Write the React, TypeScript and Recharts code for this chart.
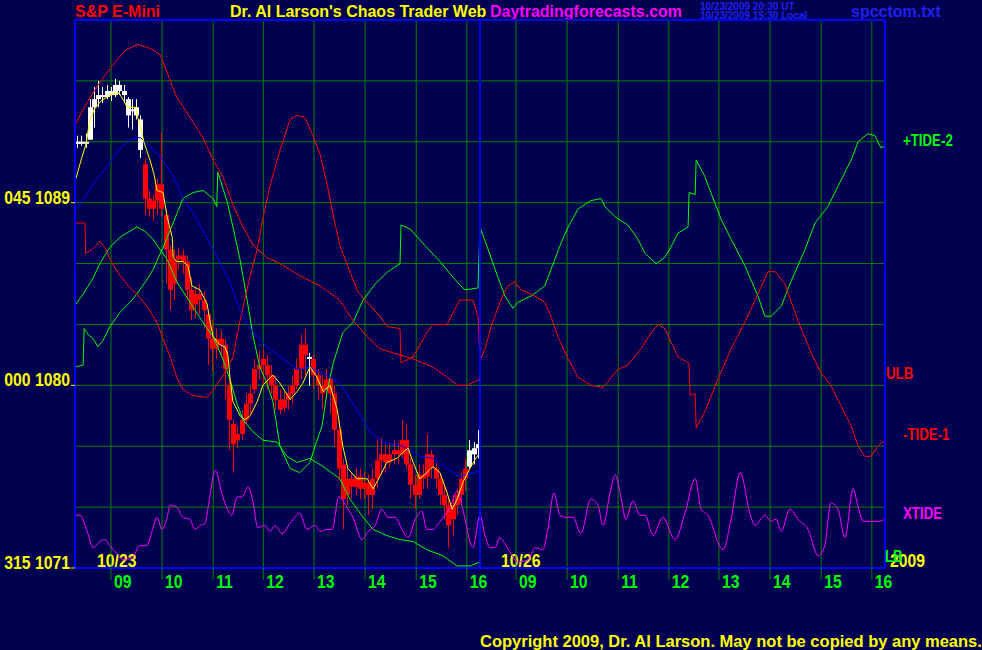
import React from "react";
import {
  ComposedChart,
  Line,
  Bar,
  XAxis,
  YAxis,
  CartesianGrid,
  ReferenceLine,
} from "recharts";

const BG = "#000050";
const GRID = "#008000";
const FRAME = "#0000ff";
const FONT = "'Liberation Sans', Arial, sans-serif";
const SQUEEZE = 0.83; // the chart's bitmap font is a narrow one

// 5-minute bars of 10/23: open, high, low, close, white(1) / red(0)
const BARS = [
  [1091.9, 1092.3, 1091.7, 1092.0, 1],
  [1092.0, 1092.3, 1091.8, 1091.9, 1],
  [1091.9, 1092.4, 1091.7, 1092.0, 1],
  [1092.1, 1094.1, 1092.1, 1093.7, 1],
  [1093.7, 1094.7, 1092.7, 1094.1, 1],
  [1094.1, 1095.0, 1093.7, 1094.3, 1],
  [1094.3, 1094.7, 1093.9, 1094.2, 1],
  [1094.2, 1094.8, 1094.1, 1094.5, 1],
  [1094.5, 1094.7, 1094.0, 1094.3, 1],
  [1094.3, 1095.1, 1094.2, 1094.8, 1],
  [1094.8, 1095.0, 1094.3, 1094.5, 1],
  [1094.5, 1094.8, 1093.9, 1094.3, 1],
  [1094.1, 1094.2, 1092.7, 1093.3, 1],
  [1093.5, 1094.1, 1092.6, 1093.6, 1],
  [1093.7, 1094.1, 1093.1, 1093.3, 1],
  [1093.1, 1093.3, 1091.2, 1091.6, 1],
  [1090.9, 1091.2, 1088.4, 1089.2, 0],
  [1089.2, 1089.6, 1088.3, 1088.7, 0],
  [1088.7, 1089.4, 1088.1, 1089.1, 0],
  [1089.1, 1090.2, 1088.4, 1089.9, 0],
  [1089.9, 1092.5, 1088.3, 1088.7, 0],
  [1088.4, 1088.7, 1085.0, 1086.7, 0],
  [1086.7, 1086.9, 1083.7, 1084.7, 0],
  [1085.0, 1086.7, 1084.2, 1086.2, 0],
  [1086.2, 1086.8, 1085.7, 1086.4, 0],
  [1086.4, 1086.7, 1085.5, 1086.1, 0],
  [1086.1, 1086.4, 1084.2, 1084.7, 0],
  [1084.7, 1085.3, 1083.2, 1083.7, 0],
  [1084.0, 1084.8, 1083.3, 1084.5, 0],
  [1084.5, 1085.0, 1083.5, 1084.2, 0],
  [1084.2, 1084.6, 1082.8, 1083.7, 0],
  [1083.5, 1083.7, 1081.0, 1082.3, 0],
  [1082.3, 1083.2, 1080.7, 1081.8, 0],
  [1081.8, 1082.8, 1081.3, 1082.3, 0],
  [1082.3, 1082.7, 1081.5, 1082.0, 0],
  [1082.0, 1082.3, 1079.3, 1080.8, 0],
  [1080.0, 1080.5, 1076.8, 1078.3, 0],
  [1078.1, 1078.3, 1075.7, 1077.1, 0],
  [1077.3, 1078.0, 1076.9, 1077.6, 0],
  [1077.6, 1078.8, 1077.3, 1078.3, 0],
  [1078.3, 1079.6, 1078.1, 1079.1, 0],
  [1079.1, 1080.0, 1078.6, 1079.6, 0],
  [1079.8, 1081.3, 1079.6, 1080.8, 0],
  [1080.8, 1081.7, 1080.3, 1081.0, 0],
  [1081.0, 1081.8, 1080.0, 1081.3, 0],
  [1081.0, 1081.5, 1079.8, 1080.5, 0],
  [1080.5, 1081.0, 1079.6, 1080.0, 0],
  [1080.0, 1080.5, 1078.8, 1079.3, 0],
  [1079.3, 1079.8, 1078.6, 1078.8, 0],
  [1078.9, 1079.7, 1078.7, 1079.3, 0],
  [1079.3, 1080.0, 1078.8, 1079.6, 0],
  [1079.6, 1080.5, 1079.1, 1080.0, 0],
  [1080.0, 1081.3, 1079.8, 1080.8, 0],
  [1080.8, 1082.5, 1080.3, 1082.0, 0],
  [1082.0, 1082.8, 1080.5, 1081.5, 0],
  [1081.3, 1081.6, 1080.0, 1081.4, 1],
  [1081.3, 1081.5, 1079.8, 1080.5, 0],
  [1080.5, 1080.8, 1079.3, 1080.0, 0],
  [1080.0, 1080.5, 1078.8, 1079.6, 0],
  [1079.8, 1080.8, 1079.3, 1080.3, 0],
  [1080.3, 1080.5, 1078.6, 1079.6, 0],
  [1079.6, 1080.0, 1077.0, 1077.8, 0],
  [1077.8, 1078.3, 1075.4, 1075.9, 0],
  [1076.1, 1076.4, 1072.9, 1074.4, 0],
  [1074.6, 1075.9, 1074.1, 1075.4, 0],
  [1075.4, 1075.7, 1074.4, 1075.0, 0],
  [1075.0, 1075.9, 1074.6, 1075.5, 0],
  [1075.5, 1075.9, 1074.4, 1074.9, 0],
  [1074.9, 1075.7, 1074.4, 1075.2, 0],
  [1075.2, 1075.6, 1073.6, 1074.6, 0],
  [1074.6, 1075.9, 1073.9, 1075.4, 0],
  [1075.4, 1077.3, 1074.9, 1076.3, 0],
  [1076.3, 1077.4, 1075.6, 1076.6, 0],
  [1076.6, 1077.1, 1075.7, 1076.2, 0],
  [1076.2, 1077.1, 1075.9, 1076.6, 0],
  [1076.6, 1077.3, 1076.1, 1076.8, 0],
  [1076.8, 1077.2, 1076.1, 1076.6, 0],
  [1076.6, 1078.3, 1076.4, 1077.3, 0],
  [1077.3, 1078.1, 1075.9, 1076.1, 0],
  [1076.1, 1076.4, 1074.4, 1075.1, 0],
  [1075.1, 1075.6, 1073.9, 1074.6, 0],
  [1074.6, 1076.1, 1074.4, 1075.6, 0],
  [1075.6, 1076.1, 1074.9, 1075.4, 0],
  [1075.5, 1077.6, 1074.9, 1076.6, 0],
  [1076.6, 1076.8, 1075.4, 1075.9, 0],
  [1075.9, 1076.2, 1074.9, 1075.4, 0],
  [1075.4, 1075.6, 1074.1, 1074.6, 0],
  [1074.6, 1075.1, 1073.4, 1074.1, 0],
  [1074.1, 1074.4, 1072.0, 1073.1, 0],
  [1073.4, 1074.6, 1072.6, 1074.1, 0],
  [1074.1, 1074.9, 1073.6, 1074.6, 0],
  [1074.6, 1075.7, 1074.1, 1075.4, 0],
  [1075.4, 1076.4, 1074.8, 1075.9, 0],
  [1076.0, 1077.3, 1075.9, 1076.8, 1],
  [1076.6, 1077.2, 1076.1, 1076.9, 1],
  [1076.9, 1077.8, 1076.4, 1077.1, 1],
];

// hour lines (hours from the start of the 10/23 session), two sessions
const HOUR_TICKS = [
  0.71, 1.72, 2.73, 3.72, 4.72, 5.73, 6.74, 7.74,
  8.71, 9.72, 10.73, 11.73, 12.72, 13.73, 14.74, 15.74,
];
const HOUR_LABELS = [
  "09", "10", "11", "12", "13", "14", "15", "16",
  "09", "10", "11", "12", "13", "14", "15", "16",
];
const GRID_PRICES = [1074, 1077, 1080, 1083, 1086, 1089, 1092, 1095];
const PRICE_TICKS = [1071, 1080, 1089];
const PRICE_ANGLES = ["315", "000", "045"];

// [hours, price]
const YELLOW_AVG = [
  [0.02, 1090.2], [0.12, 1091.1], [0.22, 1091.9], [0.28, 1092.9], [0.38, 1093.6],
  [0.51, 1094.0], [0.63, 1094.2], [0.77, 1094.4], [0.87, 1094.4], [0.97, 1094.0],
  [1.03, 1093.7], [1.13, 1093.7], [1.2, 1093.7], [1.24, 1093.2], [1.3, 1092.7],
  [1.36, 1092.0], [1.48, 1091.1], [1.56, 1090.4], [1.62, 1089.6], [1.74, 1089.5],
  [1.82, 1088.3], [1.92, 1087.3], [1.94, 1086.3], [2.01, 1086.1], [2.13, 1086.1],
  [2.23, 1085.9], [2.31, 1084.9], [2.47, 1084.7], [2.61, 1084.0], [2.67, 1083.1],
  [2.73, 1082.4], [2.86, 1082.0], [2.96, 1081.9], [3.02, 1081.5], [3.06, 1080.4],
  [3.12, 1079.2], [3.26, 1078.5], [3.36, 1078.3], [3.46, 1078.5], [3.6, 1079.2],
  [3.71, 1080.0], [3.91, 1080.5], [4.05, 1080.1], [4.25, 1079.3], [4.39, 1079.7],
  [4.5, 1080.1], [4.64, 1080.9], [4.78, 1080.4], [4.9, 1079.7], [5.04, 1080.0],
  [5.18, 1078.8], [5.29, 1077.0], [5.39, 1075.9], [5.57, 1075.4], [5.77, 1075.4],
  [5.89, 1074.9], [6.02, 1075.5], [6.16, 1076.2], [6.36, 1076.4], [6.48, 1076.7],
  [6.58, 1076.9], [6.68, 1076.2], [6.81, 1075.4], [6.95, 1075.7], [7.07, 1076.0],
  [7.21, 1075.7], [7.35, 1074.7], [7.45, 1073.9], [7.55, 1074.4], [7.66, 1075.2],
  [7.8, 1075.9], [7.94, 1076.5], [8.0, 1076.6],
];

const BLUE_AVG = [
  [0, 1088.6], [0.18, 1089.2], [0.38, 1090.0], [0.63, 1090.8], [0.83, 1091.5],
  [1.03, 1092.0], [1.2, 1092.2], [1.3, 1092.2], [1.5, 1091.7], [1.7, 1091.2],
  [1.94, 1090.3], [2.13, 1089.2], [2.33, 1088.5], [2.73, 1086.7], [3.06, 1085.1],
  [3.26, 1083.7], [3.46, 1082.8], [3.79, 1081.9], [4.11, 1081.3], [4.39, 1080.8],
  [4.64, 1080.9], [5.04, 1080.4], [5.23, 1080.1], [5.57, 1078.8], [5.83, 1077.7],
  [6.08, 1077.2], [6.48, 1077.0], [6.81, 1076.5], [7.07, 1076.4], [7.35, 1075.9],
  [7.6, 1075.5], [7.86, 1075.7], [8.0, 1075.8],
];

const ULB = [
  [0.02, 1092.9], [0.18, 1093.7], [0.38, 1094.5], [0.57, 1095.2], [0.79, 1095.9],
  [0.99, 1096.5], [1.24, 1096.8], [1.48, 1096.6], [1.68, 1096.3], [1.82, 1095.4],
  [2.01, 1094.2], [2.27, 1093.2], [2.53, 1092.2], [2.73, 1091.1], [2.92, 1090.3],
  [3.12, 1088.9], [3.32, 1087.8], [3.52, 1086.9], [3.79, 1086.3], [4.05, 1086.0],
  [4.44, 1085.4], [4.84, 1084.9], [5.23, 1084.2], [5.49, 1083.2], [5.77, 1082.4],
  [6.02, 1081.8], [6.28, 1081.6], [6.68, 1081.3], [7.07, 1080.9], [7.35, 1080.4],
  [7.55, 1080.0], [7.74, 1080.0], [8.0, 1080.3],
];

const LB = [
  [0.02, 1084.0], [0.16, 1084.5], [0.34, 1085.2], [0.49, 1086.0], [0.69, 1086.8],
  [0.89, 1087.3], [1.22, 1087.8], [1.38, 1087.6], [1.54, 1087.2], [1.82, 1086.2],
  [2.01, 1085.1], [2.27, 1084.1], [2.53, 1083.1], [2.73, 1082.4], [2.92, 1081.3],
  [3.06, 1080.3], [3.2, 1079.1], [3.32, 1078.3], [3.52, 1077.7], [3.71, 1077.3],
  [3.99, 1077.2], [4.19, 1076.5], [4.39, 1076.2], [4.64, 1076.4], [4.9, 1076.0],
  [5.23, 1075.4], [5.43, 1074.4], [5.69, 1073.5], [5.89, 1072.9], [6.16, 1072.6],
  [6.42, 1072.4], [6.68, 1072.3], [6.95, 1071.9], [7.27, 1071.6], [7.55, 1071.1],
  [7.8, 1071.1], [8.0, 1071.3],
];

const TIDE1 = [
  [0, 1088.0], [0.2, 1088.0], [0.21, 1086.5], [0.34, 1086.7], [0.49, 1087.1],
  [0.59, 1086.8], [0.69, 1086.2], [0.89, 1085.4], [1.09, 1084.8], [1.22, 1084.5],
  [1.42, 1083.9], [1.62, 1083.1], [1.74, 1082.3], [1.88, 1081.4], [2.01, 1080.4],
  [2.13, 1079.8], [2.33, 1079.5], [2.61, 1079.4], [2.8, 1080.0], [3.0, 1080.8],
  [3.12, 1081.4], [3.26, 1083.2], [3.46, 1085.4], [3.6, 1086.7], [3.71, 1088.2],
  [3.85, 1089.8], [4.05, 1091.6], [4.25, 1093.1], [4.39, 1093.3], [4.54, 1093.2],
  [4.7, 1092.3], [4.84, 1091.4], [4.98, 1089.9], [5.1, 1088.4], [5.23, 1086.9],
  [5.43, 1085.6], [5.59, 1084.6], [5.77, 1084.1], [6.02, 1083.4], [6.16, 1082.9],
  [6.42, 1082.8], [6.44, 1081.1], [6.68, 1081.4], [6.95, 1082.6], [7.07, 1083.0],
  [7.35, 1083.0], [7.6, 1084.2], [7.86, 1084.2], [7.96, 1083.4], [8.0, 1081.2],
  [8.1, 1081.8], [8.22, 1082.9], [8.41, 1084.2], [8.55, 1084.9], [8.69, 1085.1],
  [8.81, 1084.7], [9.01, 1084.5], [9.28, 1084.1], [9.4, 1083.4], [9.54, 1082.4],
  [9.74, 1081.3], [9.94, 1080.4], [10.19, 1080.0], [10.43, 1079.9], [10.73, 1080.8],
  [10.92, 1081.0], [11.18, 1081.8], [11.38, 1082.6], [11.52, 1083.0], [11.65, 1082.8],
  [11.91, 1081.4], [12.13, 1081.1], [12.15, 1079.5], [12.25, 1079.6], [12.27, 1077.9],
  [12.44, 1078.7], [12.7, 1080.3], [12.96, 1081.8], [13.23, 1083.1], [13.49, 1084.5],
  [13.69, 1085.6], [13.83, 1085.6], [14.02, 1085.0], [14.28, 1083.2], [14.54, 1081.6],
  [14.74, 1080.6], [14.93, 1080.0], [15.13, 1079.0], [15.33, 1078.0], [15.47, 1077.0],
  [15.6, 1076.5], [15.72, 1076.5], [15.86, 1077.0], [16.0, 1077.3],
];

const TIDE2 = [
  [0, 1080.9], [0.16, 1081.0], [0.18, 1082.8], [0.26, 1082.5], [0.36, 1082.3],
  [0.45, 1081.9], [0.55, 1082.2], [0.69, 1082.9], [0.89, 1083.6], [1.09, 1084.1],
  [1.22, 1084.5], [1.42, 1085.2], [1.54, 1085.7], [1.74, 1086.8], [1.94, 1088.0],
  [2.13, 1089.2], [2.33, 1089.5], [2.53, 1089.6], [2.73, 1089.2], [2.8, 1088.8],
  [2.82, 1090.5], [3.0, 1089.1], [3.12, 1087.8], [3.26, 1086.2], [3.4, 1084.2],
  [3.52, 1082.4], [3.65, 1080.9], [3.79, 1080.1], [3.91, 1079.2], [4.05, 1077.0],
  [4.25, 1075.9], [4.44, 1075.7], [4.64, 1076.2], [4.74, 1077.0], [4.88, 1078.0],
  [4.98, 1079.7], [5.1, 1081.1], [5.29, 1082.6], [5.49, 1083.1], [5.69, 1084.2],
  [5.93, 1085.0], [6.18, 1085.6], [6.42, 1086.0], [6.44, 1087.9], [6.62, 1087.7],
  [6.91, 1086.9], [7.21, 1086.1], [7.51, 1085.2], [7.7, 1084.7], [7.96, 1084.8],
  [8.0, 1087.8], [8.16, 1086.7], [8.3, 1085.7], [8.49, 1084.4], [8.65, 1083.8],
  [8.75, 1084.1], [9.01, 1084.4], [9.28, 1084.9], [9.4, 1085.7], [9.6, 1087.0],
  [9.74, 1087.8], [9.94, 1088.7], [10.19, 1089.1], [10.39, 1089.2], [10.47, 1088.8],
  [10.67, 1088.3], [10.92, 1087.9], [11.12, 1087.2], [11.26, 1086.5], [11.48, 1086.0],
  [11.65, 1086.3], [11.77, 1086.8], [11.91, 1087.5], [12.11, 1087.8], [12.13, 1089.5],
  [12.25, 1089.4], [12.27, 1091.1], [12.44, 1090.3], [12.56, 1089.5], [12.76, 1088.2],
  [12.96, 1087.2], [13.23, 1085.9], [13.49, 1084.4], [13.63, 1083.4], [13.75, 1083.4],
  [13.95, 1083.9], [14.14, 1085.1], [14.42, 1086.7], [14.62, 1088.0], [14.87, 1088.8],
  [15.07, 1089.8], [15.33, 1091.1], [15.47, 1092.0], [15.66, 1092.4], [15.8, 1092.3],
  [15.92, 1091.7], [16.0, 1091.8],
];

const XTIDE = [
  [0, 1073.6], [0.1, 1073.6], [0.24, 1072.8], [0.36, 1072.0], [0.49, 1072.3],
  [0.59, 1072.4], [0.69, 1072.1], [0.83, 1071.7], [0.95, 1071.4], [1.13, 1071.5],
  [1.28, 1072.1], [1.42, 1072.1], [1.52, 1072.8], [1.62, 1073.5], [1.72, 1072.9],
  [1.82, 1073.5], [1.88, 1074.1], [2.01, 1074.0], [2.13, 1073.5], [2.27, 1073.4],
  [2.37, 1072.9], [2.47, 1073.1], [2.57, 1073.2], [2.63, 1074.0], [2.77, 1075.8],
  [2.92, 1074.5], [3.1, 1073.6], [3.2, 1074.5], [3.3, 1074.5], [3.42, 1075.0],
  [3.52, 1074.2], [3.61, 1073.0], [3.75, 1073.1], [3.85, 1072.8], [3.95, 1073.1],
  [4.09, 1072.7], [4.25, 1073.2], [4.44, 1073.7], [4.58, 1072.9], [4.74, 1073.1],
  [4.84, 1072.8], [4.98, 1072.9], [5.08, 1072.9], [5.21, 1074.5], [5.37, 1074.0],
  [5.49, 1073.5], [5.67, 1072.4], [5.79, 1072.8], [5.93, 1073.1], [6.06, 1073.9],
  [6.18, 1073.5], [6.32, 1073.5], [6.46, 1072.9], [6.58, 1072.5], [6.72, 1073.4],
  [6.85, 1073.8], [6.95, 1072.9], [7.07, 1072.9], [7.21, 1073.3], [7.41, 1074.0],
  [7.55, 1074.8], [7.66, 1073.9], [7.86, 1072.0], [8.0, 1073.6], [8.1, 1072.6],
  [8.2, 1072.0], [8.3, 1072.0], [8.39, 1072.5], [8.49, 1072.2], [8.61, 1071.7],
  [8.75, 1071.3], [8.95, 1071.4], [9.09, 1072.0], [9.24, 1071.9], [9.34, 1072.9],
  [9.46, 1074.7], [9.58, 1073.6], [9.68, 1073.5], [9.84, 1073.5], [9.99, 1072.7],
  [10.19, 1074.4], [10.33, 1074.1], [10.43, 1073.1], [10.57, 1074.7], [10.67, 1075.6],
  [10.79, 1074.4], [10.88, 1073.4], [11.02, 1074.3], [11.16, 1073.6], [11.26, 1073.6],
  [11.42, 1072.6], [11.61, 1073.5], [11.85, 1072.4], [12.05, 1073.7], [12.25, 1075.4],
  [12.37, 1073.9], [12.5, 1073.6], [12.8, 1071.9], [12.96, 1073.4], [13.14, 1075.7],
  [13.33, 1073.7], [13.43, 1073.1], [13.63, 1073.6], [13.75, 1073.3], [13.85, 1073.4],
  [13.95, 1072.8], [14.12, 1073.9], [14.28, 1073.4], [14.48, 1072.9], [14.68, 1071.6],
  [14.81, 1072.1], [14.93, 1074.2], [15.07, 1073.9], [15.21, 1072.5], [15.37, 1074.9],
  [15.47, 1074.0], [15.57, 1073.3], [15.72, 1073.3], [15.86, 1073.3], [16.0, 1073.4],
];

const SIDE_LABELS = [
  { name: "+TIDE-2", color: "#00ff00", pts: TIDE2, dx: 18 },
  { name: "ULB", color: "#ff0000", pts: ULB, dx: 1 },
  { name: "-TIDE-1", color: "#ff0000", pts: TIDE1, dx: 18 },
  { name: "XTIDE", color: "#ff00ff", pts: XTIDE, dx: 18 },
  { name: "LB", color: "#00ff00", pts: LB, dx: 0 },
];

const lastVal = (pts: number[][]) => pts[pts.length - 1][1];
const rows = (pts: number[][]) => pts.map(([t, v]) => ({ t, v }));

const candles = BARS.map(([o, h, l, c, w], i) => ({
  t: (i + 0.5) / 12,
  o,
  h,
  l,
  c,
  w,
}));

// bold text squeezed sideways, like the narrow font of the original
function NarrowText(props: {
  x: number;
  y: number;
  fill: string;
  size: number;
  anchor?: "start" | "end";
  children: React.ReactNode;
}) {
  const { x, y, fill, size, anchor = "start", children } = props;
  return (
    <text
      transform={`translate(${x},${y}) scale(${SQUEEZE},1)`}
      x={0}
      y={0}
      textAnchor={anchor}
      fill={fill}
      fontFamily={FONT}
      fontWeight="bold"
      fontSize={size}
    >
      {children}
    </text>
  );
}

function Candle(props: any) {
  const { x, y, width, height, payload } = props;
  if (!payload || x == null) return null;
  const { o, h, l, c, w } = payload;
  const top = Math.min(y, y + height);
  const span = Math.abs(height);
  const k = h > l ? span / (h - l) : 0;
  const b1 = top + (h - Math.max(o, c)) * k;
  const b2 = top + (h - Math.min(o, c)) * k;
  const col = w ? "#ffffff" : "#ff0000";
  const cx = Math.round(x + width / 2) + 0.5;
  return (
    <g>
      <line x1={cx} x2={cx} y1={top} y2={top + span} stroke={col} strokeWidth={1} />
      <rect x={cx - 2.5} y={b1} width={5} height={Math.max(1.5, b2 - b1)} fill={col} />
    </g>
  );
}

function HourTick(props: any) {
  const { x, y, index } = props;
  return (
    <NarrowText x={x + 3} y={y + 8} fill="#00ff00" size={19}>
      {HOUR_LABELS[index]}
    </NarrowText>
  );
}

function PriceTick(props: any) {
  const { x, y, index, payload } = props;
  return (
    <NarrowText x={x - 1} y={y + 1} fill="#ffff00" size={19} anchor="end">
      {`${PRICE_ANGLES[index]} ${payload.value}`}
    </NarrowText>
  );
}

function SideTick(props: any) {
  const { x, y, payload } = props;
  const s = SIDE_LABELS.find((d) => lastVal(d.pts) === payload.value);
  if (!s) return null;
  return (
    <NarrowText x={x + s.dx} y={y} fill={s.color} size={16}>
      {s.name}
    </NarrowText>
  );
}

function Captions() {
  const bold = { fontFamily: FONT, fontWeight: "bold" as const };
  return (
    <svg width={982} height={650} style={{ position: "absolute", left: 0, top: 0 }}>
      <text x={75} y={17} fill="#ff0000" fontSize={16} {...bold}>S&amp;P E-Mini</text>
      <text x={230} y={17} fill="#ffff00" fontSize={16} {...bold}>
        Dr. Al Larson's Chaos Trader Web
      </text>
      <text x={490} y={17} fill="#ff00ff" fontSize={16} {...bold}>Daytradingforecasts.com</text>
      <text x={700} y={9.5} fill="#2020f0" fontSize={10} {...bold}>10/23/2009 20:30 UT</text>
      <text x={700} y={18.5} fill="#2020f0" fontSize={10} {...bold}>10/23/2009 15:30 Local</text>
      <text x={851} y={17} fill="#2020f0" fontSize={16} {...bold}>spcctom.txt</text>
      <NarrowText x={97} y={567} fill="#ffff00" size={19}>10/23</NarrowText>
      <NarrowText x={501} y={567} fill="#ffff00" size={19}>10/26</NarrowText>
      <NarrowText x={890} y={567} fill="#ffff00" size={19}>2009</NarrowText>
      <text x={480} y={647} fill="#ffff00" fontSize={16.5} {...bold}>
        Copyright 2009, Dr. Al Larson. May not be copied by any means.
      </text>
    </svg>
  );
}

const lineProps = {
  yAxisId: "p",
  dataKey: "v",
  strokeWidth: 1,
  dot: false,
  activeDot: false,
  isAnimationActive: false,
} as const;

export default function App() {
  return (
    <div style={{ position: "relative", width: 982, height: 650, background: BG, overflow: "hidden" }}>
      <style>{`body{margin:0;background:${BG}}`}</style>
      <Captions />
      <div style={{ position: "absolute", left: 0, top: 0 }}>
        <ComposedChart
          width={982}
          height={650}
          data={candles}
          margin={{ top: 20, right: 0, bottom: 52, left: 0 }}
        >
          <CartesianGrid
            stroke={GRID}
            horizontalValues={GRID_PRICES}
            verticalValues={HOUR_TICKS}
            yAxisId="p"
          />
          <XAxis
            type="number"
            dataKey="t"
            domain={[0, 16]}
            allowDataOverflow
            ticks={HOUR_TICKS}
            interval={0}
            height={30}
            axisLine={{ stroke: FRAME, strokeWidth: 2 }}
            tickLine={{ stroke: GRID }}
            tickSize={12}
            tickMargin={0}
            tick={<HourTick />}
          />
          <YAxis
            yAxisId="p"
            type="number"
            domain={[1071, 1098]}
            allowDataOverflow
            ticks={PRICE_TICKS}
            interval={0}
            width={75}
            axisLine={false}
            tickLine={{ stroke: "#ffff00" }}
            tickSize={4}
            tickMargin={0}
            tick={<PriceTick />}
          />
          <YAxis
            yAxisId="r"
            orientation="right"
            type="number"
            domain={[1071, 1098]}
            allowDataOverflow
            ticks={SIDE_LABELS.map((s) => lastVal(s.pts))}
            interval={0}
            width={97}
            axisLine={false}
            tickLine={false}
            tickSize={0}
            tickMargin={0}
            tick={<SideTick />}
          />

          <Bar
            yAxisId="p"
            dataKey={(d: any) => [d.l, d.h]}
            barSize={3}
            shape={(p: any) => <Candle {...p} />}
            isAnimationActive={false}
          />

          <Line {...lineProps} data={rows(XTIDE)} type="monotone" stroke="#ff00ff" />
          <Line {...lineProps} data={rows(LB)} type="linear" stroke="#00ff00" />
          <Line {...lineProps} data={rows(TIDE2)} type="linear" stroke="#00ff00" />
          <Line {...lineProps} data={rows(ULB)} type="linear" stroke="#ff0000" />
          <Line {...lineProps} data={rows(TIDE1)} type="linear" stroke="#ff0000" />
          <Line {...lineProps} data={rows(BLUE_AVG)} type="linear" stroke="#0000ff" />
          <Line {...lineProps} data={rows(YELLOW_AVG)} type="linear" stroke="#ffff00" />

          {/* frame */}
          <ReferenceLine yAxisId="p" x={0} stroke={FRAME} strokeWidth={2} />
          <ReferenceLine yAxisId="p" x={8} stroke={FRAME} strokeWidth={2} />
          <ReferenceLine yAxisId="p" x={16} stroke={FRAME} strokeWidth={2} />
          <ReferenceLine yAxisId="p" y={1098} stroke={FRAME} strokeWidth={2} />
        </ComposedChart>
      </div>
    </div>
  );
}
